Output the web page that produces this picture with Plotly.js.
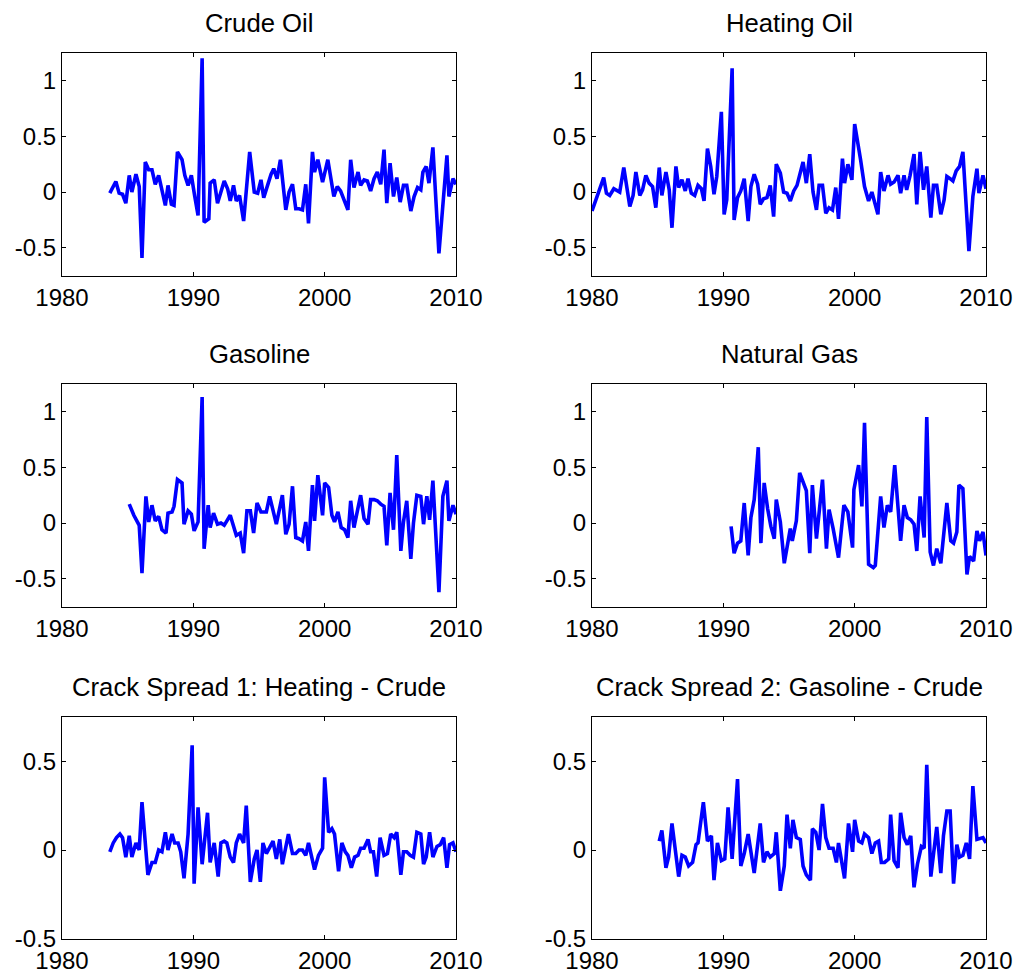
<!DOCTYPE html>
<html>
<head>
<meta charset="utf-8">
<script src="https://cdn.plot.ly/plotly-3.0.1.min.js"></script>
<style>html,body{margin:0;padding:0;background:#fff;}#chart{width:1019px;height:976px;}</style>
</head>
<body>
<div id="chart"></div>
<script>
// ---- data ----
const crudeDates = [1983.64, 1984.10, 1984.35, 1984.61, 1984.86, 1985.12, 1985.32, 1985.63, 1985.88, 1986.09,
  1986.34, 1986.60, 1986.85, 1987.10, 1987.36, 1987.61, 1987.87, 1988.07, 1988.33, 1988.53,
  1988.79, 1989.14, 1989.35, 1989.60, 1989.85, 1990.11, 1990.36, 1990.67, 1990.82, 1991.18,
  1991.28, 1991.59, 1991.84, 1992.10, 1992.35, 1992.61, 1992.81, 1993.06, 1993.27, 1993.52,
  1993.83, 1994.29, 1994.64, 1994.90, 1995.15, 1995.36, 1995.66, 1995.92, 1996.12, 1996.37,
  1996.63, 1997.04, 1997.29, 1997.55, 1997.80, 1998.05, 1998.31, 1998.56, 1998.77, 1999.07,
  1999.23, 1999.48, 1999.84, 2000.24, 2000.70, 2000.96, 2001.21, 2001.77, 2001.98, 2002.23,
  2002.54, 2002.74, 2003.00, 2003.25, 2003.50, 2003.76, 2004.01, 2004.27, 2004.52, 2004.73,
  2004.98, 2005.24, 2005.49, 2005.75, 2006.00, 2006.25, 2006.56, 2006.81, 2007.07, 2007.32,
  2007.48, 2007.73, 2007.94, 2008.24, 2008.70, 2009.31, 2009.46, 2009.77, 2010.00];
const crudeValues = [-0.01, 0.095, -0.01, -0.02, -0.10, 0.15, 0.0, 0.16, 0.05, -0.59,
  0.27, 0.20, 0.20, 0.07, 0.15, 0.02, -0.12, 0.06, -0.11, -0.12,
  0.36, 0.29, 0.15, 0.06, 0.15, -0.04, -0.21, 1.20, -0.27, -0.24,
  0.08, 0.11, -0.10, 0.0, 0.10, 0.03, -0.08, 0.06, -0.08, -0.03,
  -0.26, 0.36, 0.0, -0.01, 0.11, -0.05, 0.07, 0.16, 0.21, 0.12,
  0.29, -0.16, 0.0, 0.07, -0.15, -0.15, -0.16, 0.07, -0.28, 0.36,
  0.18, 0.29, 0.09, 0.29, -0.04, 0.05, 0.01, -0.16, 0.29, 0.04,
  0.18, 0.06, 0.11, 0.10, 0.01, 0.12, 0.18, 0.07, 0.38, -0.10,
  0.26, -0.04, 0.13, -0.09, 0.06, 0.06, -0.17, -0.04, 0.04, 0.02,
  0.18, 0.23, 0.08, 0.40, -0.55, 0.33, -0.04, 0.12, 0.07];

const heatingDates = [1980.00, 1980.38, 1980.64, 1980.89, 1981.10, 1981.35, 1981.66, 1981.91, 1982.11, 1982.42,
  1982.88, 1983.13, 1983.34, 1983.64, 1983.85, 1984.10, 1984.35, 1984.61, 1984.86, 1985.12,
  1985.32, 1985.63, 1985.88, 1986.09, 1986.39, 1986.60, 1986.85, 1987.10, 1987.31, 1987.56,
  1987.82, 1988.07, 1988.33, 1988.53, 1988.79, 1989.04, 1989.29, 1989.50, 1989.85, 1990.06,
  1990.26, 1990.67, 1990.82, 1991.08, 1991.33, 1991.59, 1991.89, 1992.10, 1992.35, 1992.61,
  1992.81, 1993.06, 1993.32, 1993.57, 1993.83, 1994.03, 1994.34, 1994.59, 1994.85, 1995.10,
  1995.36, 1995.61, 1995.81, 1996.07, 1996.32, 1996.58, 1996.83, 1997.09, 1997.29, 1997.55,
  1997.80, 1998.05, 1998.31, 1998.56, 1998.77, 1999.07, 1999.23, 1999.48, 1999.79, 2000.00,
  2000.45, 2000.75, 2001.06, 2001.31, 2001.77, 2001.98, 2002.23, 2002.54, 2002.74, 2003.00,
  2003.30, 2003.50, 2003.76, 2003.96, 2004.22, 2004.52, 2004.73, 2004.98, 2005.24, 2005.49,
  2005.80, 2006.00, 2006.25, 2006.56, 2006.81, 2007.02, 2007.27, 2007.48, 2007.73, 2007.99,
  2008.24, 2008.70, 2009.00, 2009.31, 2009.46, 2009.77, 2010.00];
const heatingValues = [-0.17, -0.04, 0.06, 0.13, -0.01, -0.03, 0.03, 0.01, 0.0, 0.22,
  -0.13, -0.03, 0.18, -0.03, 0.02, 0.15, 0.08, 0.05, -0.14, 0.22,
  -0.03, 0.18, 0.02, -0.32, 0.23, 0.04, 0.11, 0.01, 0.12, -0.01,
  -0.03, 0.06, 0.03, -0.08, 0.39, 0.23, -0.02, 0.14, 0.72, -0.20,
  -0.07, 1.11, -0.25, -0.05, 0.01, 0.12, -0.26, 0.05, 0.16, 0.07,
  -0.11, -0.06, -0.05, 0.06, -0.22, 0.25, 0.17, 0.0, -0.01, -0.08,
  0.01, 0.06, 0.14, 0.27, 0.08, 0.34, 0.0, -0.16, 0.06, 0.06,
  -0.19, -0.14, -0.16, 0.04, -0.24, 0.30, 0.08, 0.25, 0.11, 0.61,
  0.29, 0.05, -0.08, 0.0, -0.20, 0.18, 0.01, 0.15, 0.07, 0.09,
  0.15, -0.01, 0.15, 0.02, 0.15, 0.34, -0.11, 0.36, 0.02, 0.23,
  -0.23, 0.06, 0.06, -0.20, -0.07, 0.14, 0.12, 0.10, 0.19, 0.23,
  0.36, -0.53, -0.04, 0.21, -0.01, 0.15, 0.03];

const gasolineDates = [1985.12, 1985.47, 1985.88, 1986.09, 1986.39, 1986.60, 1986.85, 1987.10, 1987.36, 1987.61,
  1987.92, 1988.07, 1988.38, 1988.53, 1988.79, 1989.14, 1989.29, 1989.60, 1989.85, 1990.06,
  1990.36, 1990.67, 1990.82, 1991.13, 1991.28, 1991.54, 1991.84, 1992.10, 1992.35, 1992.81,
  1993.27, 1993.57, 1993.83, 1994.08, 1994.34, 1994.59, 1994.85, 1995.15, 1995.56, 1995.81,
  1996.32, 1996.78, 1997.04, 1997.29, 1997.55, 1997.80, 1998.05, 1998.31, 1998.56, 1998.77,
  1999.07, 1999.23, 1999.48, 1999.84, 2000.00, 2000.30, 2000.55, 2000.75, 2001.01, 2001.26,
  2001.52, 2001.77, 2001.98, 2002.23, 2002.74, 2003.00, 2003.30, 2003.50, 2003.76, 2004.01,
  2004.27, 2004.52, 2004.73, 2004.98, 2005.24, 2005.49, 2005.80, 2006.00, 2006.25, 2006.56,
  2006.76, 2007.02, 2007.32, 2007.53, 2007.78, 2007.99, 2008.24, 2008.70, 2009.00, 2009.31,
  2009.46, 2009.77, 2010.00];
const gasolineValues = [0.17, 0.07, -0.02, -0.45, 0.24, 0.01, 0.16, 0.02, 0.06, -0.06,
  -0.09, 0.09, 0.10, 0.15, 0.39, 0.36, -0.01, 0.11, 0.08, -0.07,
  0.01, 1.13, -0.23, 0.16, -0.04, 0.09, -0.01, 0.0, -0.02, 0.07,
  -0.11, -0.09, -0.27, 0.11, 0.11, -0.09, 0.18, 0.10, 0.10, 0.24,
  -0.01, 0.25, -0.10, -0.01, 0.33, -0.13, -0.14, -0.16, 0.01, -0.25,
  0.34, 0.02, 0.43, 0.07, 0.36, 0.32, 0.07, 0.01, 0.10, -0.04,
  -0.06, -0.13, 0.20, -0.04, 0.25, 0.04, -0.01, 0.21, 0.21, 0.20,
  0.17, 0.15, -0.20, 0.27, -0.06, 0.61, -0.25, 0.01, 0.20, -0.32,
  0.0, 0.25, 0.24, -0.01, 0.24, 0.03, 0.38, -0.62, 0.24, 0.38,
  0.02, 0.16, 0.08];

const natgasDates = [1990.59, 1990.82, 1991.08, 1991.33, 1991.59, 1991.89, 1992.10, 1992.35, 1992.66, 1992.86,
  1993.11, 1993.37, 1993.62, 1993.88, 1994.03, 1994.34, 1994.64, 1994.90, 1995.10, 1995.25,
  1995.56, 1995.81, 1996.32, 1996.58, 1996.78, 1997.09, 1997.55, 1997.85, 1998.05, 1998.36,
  1998.77, 1999.18, 1999.48, 1999.84, 1999.94, 2000.30, 2000.55, 2000.75, 2001.06, 2001.42,
  2001.57, 2001.98, 2002.23, 2002.49, 2002.74, 2003.05, 2003.50, 2003.76, 2004.01, 2004.27,
  2004.52, 2004.73, 2004.98, 2005.29, 2005.49, 2005.75, 2006.00, 2006.25, 2006.56, 2007.02,
  2007.32, 2007.53, 2007.78, 2007.94, 2008.24, 2008.55, 2008.75, 2009.06, 2009.31, 2009.51,
  2009.77, 2010.00];
const natgasValues = [-0.03, -0.27, -0.18, -0.16, 0.18, -0.29, 0.05, 0.21, 0.68, -0.18,
  0.36, 0.13, -0.03, -0.14, 0.21, 0.01, -0.36, -0.16, -0.05, -0.16,
  0.02, 0.45, 0.29, -0.27, 0.34, -0.14, 0.39, -0.23, 0.12, -0.05,
  -0.31, 0.16, 0.10, -0.22, 0.30, 0.52, 0.15, 0.90, -0.37, -0.40,
  -0.38, 0.24, -0.04, 0.16, 0.10, 0.52, -0.16, 0.16, 0.05, 0.03,
  -0.01, -0.25, 0.24, -0.13, 0.95, -0.26, -0.38, -0.23, -0.36, 0.18,
  -0.16, -0.18, -0.08, 0.34, 0.31, -0.46, -0.30, -0.34, -0.07, -0.16,
  -0.08, -0.29];

const crack1Dates = [1983.64, 1983.90, 1984.15, 1984.41, 1984.61, 1984.86, 1985.12, 1985.32, 1985.63, 1985.88,
  1986.09, 1986.54, 1986.85, 1987.10, 1987.36, 1987.61, 1987.87, 1988.07, 1988.38, 1988.58,
  1988.84, 1989.04, 1989.29, 1989.60, 1989.91, 1990.06, 1990.36, 1990.67, 1991.08, 1991.28,
  1991.59, 1991.89, 1992.10, 1992.35, 1992.55, 1992.81, 1993.06, 1993.27, 1993.52, 1993.83,
  1994.03, 1994.34, 1994.64, 1994.85, 1995.10, 1995.30, 1995.56, 1995.81, 1996.07, 1996.32,
  1996.58, 1996.78, 1997.24, 1997.55, 1997.80, 1998.05, 1998.31, 1998.56, 1998.77, 1999.23,
  1999.53, 1999.84, 2000.00, 2000.30, 2000.55, 2000.75, 2001.06, 2001.31, 2001.57, 2001.77,
  2002.03, 2002.28, 2002.54, 2002.74, 2003.00, 2003.30, 2003.50, 2003.71, 2003.96, 2004.22,
  2004.52, 2004.78, 2005.03, 2005.29, 2005.49, 2005.80, 2006.00, 2006.25, 2006.51, 2006.76,
  2007.02, 2007.32, 2007.53, 2007.73, 2007.99, 2008.24, 2008.55, 2008.80, 2009.06, 2009.31,
  2009.51, 2009.77, 2010.00];
const crack1Values = [-0.01, 0.04, 0.07, 0.09, 0.07, -0.04, 0.08, -0.04, 0.04, 0.0,
  0.27, -0.14, -0.07, -0.07, 0.0, -0.01, 0.10, 0.0, 0.09, 0.04,
  0.04, -0.01, -0.16, 0.09, 0.59, -0.19, 0.24, -0.08, 0.21, -0.07,
  0.04, -0.15, 0.04, 0.05, 0.04, -0.04, -0.07, 0.04, 0.09, 0.04,
  0.25, -0.18, -0.05, 0.0, -0.18, 0.04, -0.02, 0.01, 0.05, -0.05,
  0.06, -0.08, 0.09, -0.02, -0.02, 0.0, 0.0, -0.03, 0.04, -0.11,
  -0.03, 0.01, 0.41, 0.10, 0.12, 0.09, -0.12, 0.04, -0.01, -0.03,
  -0.10, -0.04, -0.03, 0.01, 0.01, 0.06, -0.01, -0.01, -0.15, 0.07,
  -0.03, -0.02, 0.09, 0.07, 0.10, -0.14, -0.01, -0.01, -0.03, -0.04,
  0.10, 0.09, -0.08, -0.04, 0.10, -0.04, 0.02, 0.03, 0.07, -0.10,
  0.03, 0.04, -0.01];

const crack2Dates = [1985.12, 1985.32, 1985.63, 1985.83, 1986.09, 1986.34, 1986.60, 1986.85, 1987.10, 1987.36,
  1987.66, 1987.92, 1988.07, 1988.48, 1988.79, 1989.09, 1989.29, 1989.55, 1989.85, 1990.11,
  1990.36, 1990.67, 1991.08, 1991.33, 1991.59, 1991.89, 1992.35, 1992.81, 1993.06, 1993.32,
  1993.57, 1993.88, 1994.03, 1994.34, 1994.64, 1994.85, 1995.10, 1995.30, 1995.56, 1995.86,
  1996.07, 1996.32, 1996.63, 1996.78, 1997.04, 1997.29, 1997.55, 1997.80, 1998.05, 1998.36,
  1998.61, 1998.77, 1999.23, 1999.53, 1999.84, 2000.00, 2000.30, 2000.55, 2000.75, 2001.06,
  2001.31, 2001.57, 2001.82, 2002.03, 2002.28, 2002.59, 2002.74, 2003.00, 2003.30, 2003.50,
  2003.76, 2004.01, 2004.27, 2004.52, 2004.78, 2005.08, 2005.29, 2005.49, 2005.80, 2006.25,
  2006.56, 2006.76, 2007.02, 2007.27, 2007.53, 2007.78, 2007.99, 2008.24, 2008.50, 2008.75,
  2009.00, 2009.31, 2009.77, 2010.00];
const crack2Values = [0.05, 0.11, -0.10, -0.04, 0.15, 0.0, -0.15, -0.03, -0.04, -0.09,
  -0.07, 0.03, 0.04, 0.27, 0.05, 0.08, -0.17, 0.04, -0.06, -0.05,
  0.24, -0.05, 0.40, -0.09, -0.02, 0.09, -0.13, 0.15, -0.07, -0.01,
  -0.04, -0.02, 0.10, -0.23, -0.09, 0.20, 0.01, 0.17, 0.07, 0.06,
  -0.09, -0.14, -0.17, 0.12, 0.10, 0.0, 0.26, 0.07, 0.01, 0.01,
  -0.07, 0.04, -0.16, 0.15, -0.01, 0.17, 0.05, 0.04, 0.09, 0.07,
  -0.02, 0.04, 0.05, -0.07, -0.07, -0.05, 0.20, -0.06, -0.10, 0.21,
  0.07, 0.03, 0.08, -0.21, -0.08, 0.02, 0.01, 0.48, -0.15, 0.13,
  -0.13, 0.08, 0.22, 0.22, -0.19, 0.03, -0.04, -0.03, 0.04, -0.05,
  0.36, 0.06, 0.07, 0.04];

const panelTitles = ['Crude Oil', 'Heating Oil', 'Gasoline', 'Natural Gas',
  'Crack Spread 1: Heating - Crude', 'Crack Spread 2: Gasoline - Crude'];
const xTickVals = [1980, 1990, 2000, 2010];
const xTickText = ['1980', '1990', '2000', '2010'];
const yTickValsPrice = [-0.5, 0, 0.5, 1];
const yTickTextPrice = ['-0.5', '0', '0.5', '1'];
const yTickValsSpread = [-0.5, 0, 0.5];
const yTickTextSpread = ['-0.5', '0', '0.5'];

// ---- layout ----
const W = 1019, H = 976;
const colDomains = [[62 / W, 456 / W], [592 / W, 986 / W]];
const rowDomains = [[1 - 275.7 / H, 1 - 52.7 / H], [1 - 606.7 / H, 1 - 383.7 / H], [1 - 938.7 / H, 1 - 717 / H]];
const FONT = 'Liberation Sans, Helvetica, Arial, sans-serif';

const series = [
  [crudeDates, crudeValues], [heatingDates, heatingValues],
  [gasolineDates, gasolineValues], [natgasDates, natgasValues],
  [crack1Dates, crack1Values], [crack2Dates, crack2Values]
];

const traces = [];
const layout = {
  width: W, height: H,
  margin: {l: 0, r: 0, t: 0, b: 0},
  paper_bgcolor: '#ffffff', plot_bgcolor: '#ffffff',
  showlegend: false,
  font: {family: FONT, size: 24, color: '#000'},
  annotations: []
};

series.forEach((s, i) => {
  const n = i + 1;
  const suffix = n === 1 ? '' : String(n);
  const row = Math.floor(i / 2), col = i % 2;
  traces.push({
    type: 'scatter', mode: 'lines',
    x: s[0], y: s[1],
    xaxis: 'x' + suffix, yaxis: 'y' + suffix,
    line: {color: 'rgb(0,0,255)', width: 3.6},
    hoverinfo: 'skip'
  });
  const spread = row === 2;
  const common = {
    showline: true, linecolor: '#000', linewidth: 1, mirror: 'ticks',
    ticks: 'inside', ticklen: 4, tickwidth: 1, tickcolor: '#000',
    showgrid: false, zeroline: false, fixedrange: true,
    tickfont: {family: FONT, size: 24, color: '#000'}
  };
  layout['xaxis' + suffix] = Object.assign({}, common, {
    domain: colDomains[col], anchor: 'y' + suffix,
    range: [1980, 2010], tickmode: 'array', tickvals: xTickVals, ticktext: xTickText
  });
  layout['yaxis' + suffix] = Object.assign({}, common, {
    domain: rowDomains[row], anchor: 'x' + suffix,
    range: spread ? [-0.5, 0.75] : [-0.75, 1.25],
    tickmode: 'array',
    tickvals: spread ? yTickValsSpread : yTickValsPrice,
    ticktext: spread ? yTickTextSpread : yTickTextPrice
  });
  layout.annotations.push({
    text: panelTitles[i], xref: 'paper', yref: 'paper',
    x: (colDomains[col][0] + colDomains[col][1]) / 2, y: rowDomains[row][1],
    xanchor: 'center', yanchor: 'bottom', yshift: 14, showarrow: false,
    font: {family: FONT, size: 25.7, color: '#000'}
  });
});

Plotly.newPlot('chart', traces, layout, {displayModeBar: false, staticPlot: true});
</script>
</body>
</html>
